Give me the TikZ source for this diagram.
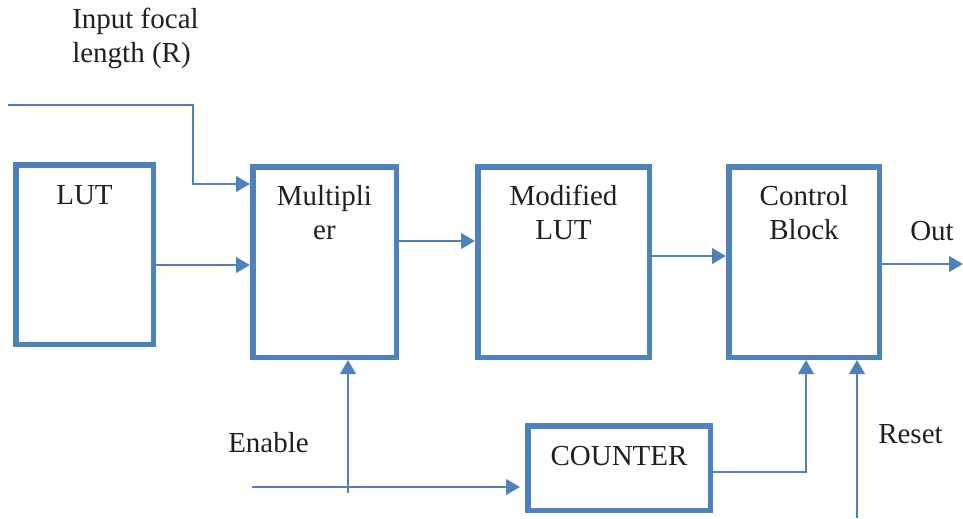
\documentclass[tikz,border=0pt]{standalone}
\usepackage{fontspec}
\setmainfont{Liberation Serif}
\usetikzlibrary{arrows.meta,calc}
\definecolor{bblue}{RGB}{79,129,189}
\definecolor{txtc}{RGB}{35,31,32}
\begin{document}
\begin{tikzpicture}[x=0.75pt,y=-0.75pt,
  box/.style={draw=bblue, line width=4.125pt, inner sep=0pt, minimum height=142.875pt},
  lbl/.style={text=txtc, inner sep=0pt, font=\fontsize{21.75pt}{25.5pt}\selectfont},
  conn/.style={draw=bblue, line width=1.95pt, -{Triangle[length=10.5pt,width=11.6pt]}}]
\useasboundingbox[fill=white] (0,0) rectangle (963,518);
% boxes
\node[box, minimum width=103.125pt, minimum height=134.625pt] (lut) at (84.5,254.5) {};
\node[box, minimum width=107.625pt] (mult) at (324.5,262) {};
\node[box, minimum width=128.625pt] (mod) at (563.5,262) {};
\node[box, minimum width=112.875pt] (ctrl) at (804,262) {};
\node[box, minimum width=136.875pt, minimum height=63.375pt] (cnt) at (619,468) {};
% labels
\node[lbl, anchor=base] (tlut) at (84.5,204) {LUT};
\node[lbl, anchor=base, align=center] (tmul) at (324.5,239.5) {Multipli\\er};
\node[lbl, anchor=base, align=center] (tmod) at (563.5,239.5) {Modified\\LUT};
\node[lbl, anchor=base, align=center] (tctrl) at (804,239.5) {Control\\Block};
\node[lbl, anchor=base] (tcnt) at (619,465) {COUNTER};
\node[lbl, anchor=base west, align=left] (tin) at (72,62) {Input focal\\length (R)};
\node[lbl, anchor=base west] (ten) at (228,452) {Enable};
\node[lbl, anchor=base west] (tout) at (910,240) {Out};
\node[lbl, anchor=base west] (trs) at (878,443) {Reset};
% connectors
\coordinate (inS) at (8,105);
\coordinate (inB) at (193,105);
\draw[conn] (inS) -- (inB) |- ($(mult.west)+(0,-78)$);
\draw[conn] ($(lut.east)+(0,10.5)$) coordinate (a1) -- (a1 -| mult.west);
\draw[conn] ($(mult.east)+(0,-21)$) coordinate (a2) -- (a2 -| mod.west);
\draw[conn] ($(mod.east)+(0,-6)$) coordinate (a3) -- (a3 -| ctrl.west);
\coordinate (outE) at (963,264);
\draw[conn] (outE -| ctrl.east) -- (outE);
\coordinate (enS) at (252,487);
\draw[conn, shorten >=3.75pt] (enS) -- (enS -| cnt.west);
\coordinate (enV) at (348,493);
\draw[conn] (enV) -- (enV |- mult.south);
\draw[conn] ($(cnt.east)+(0,4)$) -| ($(ctrl.south)+(2,0)$);
\coordinate (rsS) at (857,518);
\draw[conn] (rsS) -- (rsS |- ctrl.south);
\end{tikzpicture}
\end{document}
